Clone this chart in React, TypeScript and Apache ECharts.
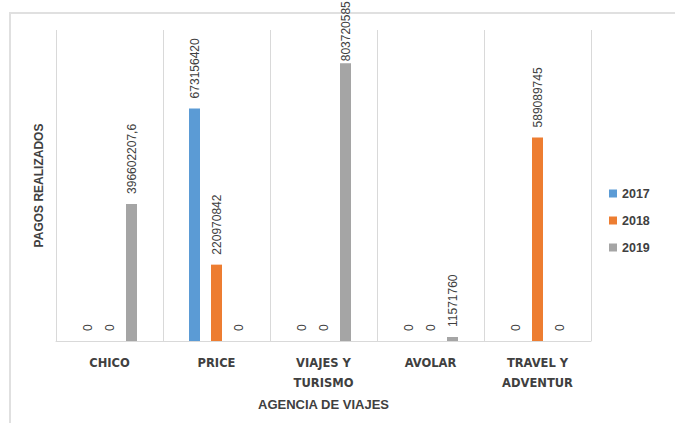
import React, { useEffect, useRef } from "react";
import * as echarts from "echarts";

const categories = ["CHICO", "PRICE", "VIAJES Y\nTURISMO", "AVOLAR", "TRAVEL Y\nADVENTUR"];
const seriesNames = ["2017", "2018", "2019"];
const values2017 = [0, 673156420, 0, 0, 0];
const values2018 = [0, 220970842, 0, 0, 589089745];
const values2019 = [396602207.6, 0, 803720585, 11571760, 0];
const colors = ["#5b9bd5", "#ed7d31", "#a5a5a5"];

export default function App() {
  const ref = useRef<HTMLDivElement>(null);
  useEffect(() => {
    if (!ref.current) return;
    const chart = echarts.init(ref.current, undefined, { renderer: "svg" });
    const data = [values2017, values2018, values2019];
    chart.setOption({
      animation: false,
      backgroundColor: "#ffffff",
      textStyle: { fontFamily: "Liberation Sans" },
      graphic: [
        {
          type: "rect",
          shape: { x: 10, y: 13, width: 700, height: 430 },
          style: { fill: "none", stroke: "#e0e0e0", lineWidth: 2 },
          silent: true,
        },
      ],
      legend: {
        orient: "vertical",
        left: 604,
        top: 182,
        itemWidth: 8,
        itemHeight: 8,
        itemGap: 14,
        icon: "rect",
        data: seriesNames,
        textStyle: { fontFamily: "Liberation Sans", fontWeight: "bold", fontSize: 12.5, color: "#404040" },
      },
      grid: { left: 56, right: 84, top: 30, bottom: 82 },
      xAxis: {
        type: "category",
        data: categories,
        name: "AGENCIA DE VIAJES",
        nameLocation: "middle",
        nameGap: 52,
        nameTextStyle: { fontFamily: "Liberation Sans", fontWeight: "bold", fontSize: 13, color: "#404040" },
        axisLine: { show: true, lineStyle: { color: "#d9d9d9", width: 1 } },
        axisTick: { show: false },
        splitLine: { show: true, lineStyle: { color: "#d9d9d9", width: 1 } },
        axisLabel: {
          margin: 12,
          fontFamily: "DejaVu Sans",
          fontWeight: "bold",
          fontSize: 11.5,
          color: "#404040",
          lineHeight: 20,
        },
      },
      yAxis: {
        type: "value",
        min: 0,
        max: 900000000,
        name: "PAGOS REALIZADOS",
        nameLocation: "middle",
        nameGap: 11,
        nameTextStyle: { fontFamily: "Liberation Sans", fontWeight: "bold", fontSize: 12, color: "#404040" },
        axisLine: { show: false },
        axisTick: { show: false },
        axisLabel: { show: false },
        splitLine: { show: false },
      },
      series: seriesNames.map((name, i) => ({
        name,
        type: "bar",
        data: data[i].map((v) =>
          v > 800000000 ? { value: v, label: { distance: 2 } } : v
        ),
        barWidth: 11,
        barGap: "100%",
        itemStyle: { color: colors[i] },
        label: {
          show: true,
          position: "top",
          rotate: 90,
          align: "left",
          verticalAlign: "middle",
          distance: 10,
          fontFamily: "Liberation Sans",
          fontSize: 12,
          color: "#404040",
          formatter: (p: any) => String(p.value).replace(".", ","),
        },
      })),
    });
    return () => chart.dispose();
  }, []);
  return (
    <div
      ref={ref}
      style={{ position: "fixed", left: 0, top: 0, width: 675, height: 423 }}
    />
  );
}
